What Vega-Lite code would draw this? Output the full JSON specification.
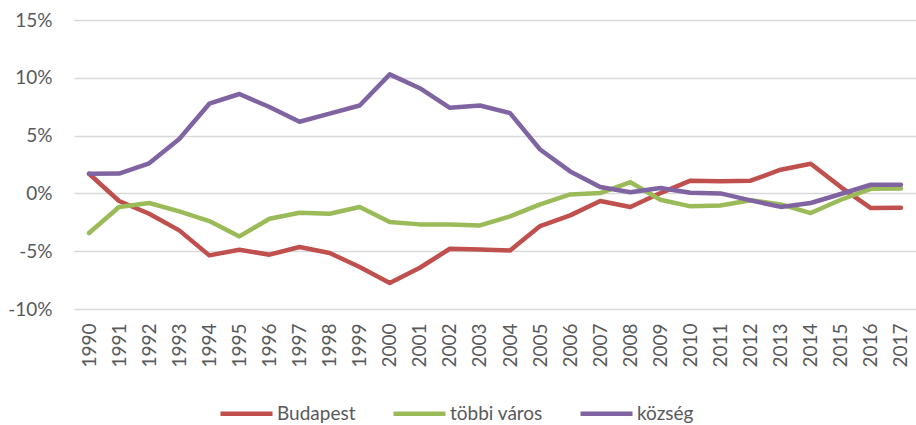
{
  "$schema": "https://vega.github.io/schema/vega-lite/v6.json",
  "autosize": "none",
  "width": 842,
  "height": 289,
  "padding": {"left": 74, "top": 20, "right": 0, "bottom": 116},
  "background": "white",
  "config": {
    "view": {"stroke": null},
    "font": "Lato",
    "axis": {"labelFont": "Lato", "labelColor": "#595959", "labelFontSize": 19},
    "legend": {"labelFont": "Lato", "labelColor": "#595959", "labelFontSize": 19}
  },
  "datasets": {
    "d": [
      {"year": "1990", "series": "Budapest", "value": 1.7},
      {"year": "1991", "series": "Budapest", "value": -0.66},
      {"year": "1992", "series": "Budapest", "value": -1.76},
      {"year": "1993", "series": "Budapest", "value": -3.2},
      {"year": "1994", "series": "Budapest", "value": -5.36},
      {"year": "1995", "series": "Budapest", "value": -4.87},
      {"year": "1996", "series": "Budapest", "value": -5.3},
      {"year": "1997", "series": "Budapest", "value": -4.64},
      {"year": "1998", "series": "Budapest", "value": -5.16},
      {"year": "1999", "series": "Budapest", "value": -6.37},
      {"year": "2000", "series": "Budapest", "value": -7.76},
      {"year": "2001", "series": "Budapest", "value": -6.43},
      {"year": "2002", "series": "Budapest", "value": -4.79},
      {"year": "2003", "series": "Budapest", "value": -4.85},
      {"year": "2004", "series": "Budapest", "value": -4.93},
      {"year": "2005", "series": "Budapest", "value": -2.83},
      {"year": "2006", "series": "Budapest", "value": -1.9},
      {"year": "2007", "series": "Budapest", "value": -0.66},
      {"year": "2008", "series": "Budapest", "value": -1.18},
      {"year": "2009", "series": "Budapest", "value": 0.03},
      {"year": "2010", "series": "Budapest", "value": 1.1},
      {"year": "2011", "series": "Budapest", "value": 1.05},
      {"year": "2012", "series": "Budapest", "value": 1.1},
      {"year": "2013", "series": "Budapest", "value": 2.05},
      {"year": "2014", "series": "Budapest", "value": 2.57},
      {"year": "2015", "series": "Budapest", "value": 0.55},
      {"year": "2016", "series": "Budapest", "value": -1.27},
      {"year": "2017", "series": "Budapest", "value": -1.25},
      {"year": "1990", "series": "többi város", "value": -3.43},
      {"year": "1991", "series": "többi város", "value": -1.18},
      {"year": "1992", "series": "többi város", "value": -0.83},
      {"year": "1993", "series": "többi város", "value": -1.56},
      {"year": "1994", "series": "többi város", "value": -2.39},
      {"year": "1995", "series": "többi város", "value": -3.72},
      {"year": "1996", "series": "többi város", "value": -2.19},
      {"year": "1997", "series": "többi város", "value": -1.67},
      {"year": "1998", "series": "többi város", "value": -1.76},
      {"year": "1999", "series": "többi város", "value": -1.18},
      {"year": "2000", "series": "többi város", "value": -2.48},
      {"year": "2001", "series": "többi város", "value": -2.68},
      {"year": "2002", "series": "többi város", "value": -2.68},
      {"year": "2003", "series": "többi város", "value": -2.77},
      {"year": "2004", "series": "többi város", "value": -1.99},
      {"year": "2005", "series": "többi város", "value": -0.95},
      {"year": "2006", "series": "többi város", "value": -0.09},
      {"year": "2007", "series": "többi város", "value": 0.03},
      {"year": "2008", "series": "többi város", "value": 0.98},
      {"year": "2009", "series": "többi város", "value": -0.55},
      {"year": "2010", "series": "többi város", "value": -1.12},
      {"year": "2011", "series": "többi város", "value": -1.04},
      {"year": "2012", "series": "többi város", "value": -0.6},
      {"year": "2013", "series": "többi város", "value": -0.95},
      {"year": "2014", "series": "többi város", "value": -1.7},
      {"year": "2015", "series": "többi város", "value": -0.55},
      {"year": "2016", "series": "többi város", "value": 0.4},
      {"year": "2017", "series": "többi város", "value": 0.42},
      {"year": "1990", "series": "község", "value": 1.7},
      {"year": "1991", "series": "község", "value": 1.72},
      {"year": "1992", "series": "község", "value": 2.6},
      {"year": "1993", "series": "község", "value": 4.7},
      {"year": "1994", "series": "község", "value": 7.76},
      {"year": "1995", "series": "község", "value": 8.6},
      {"year": "1996", "series": "község", "value": 7.47},
      {"year": "1997", "series": "község", "value": 6.2},
      {"year": "1998", "series": "község", "value": 6.9},
      {"year": "1999", "series": "község", "value": 7.6},
      {"year": "2000", "series": "község", "value": 10.3},
      {"year": "2001", "series": "község", "value": 9.1},
      {"year": "2002", "series": "község", "value": 7.4},
      {"year": "2003", "series": "község", "value": 7.6},
      {"year": "2004", "series": "község", "value": 6.95},
      {"year": "2005", "series": "község", "value": 3.8},
      {"year": "2006", "series": "község", "value": 1.9},
      {"year": "2007", "series": "község", "value": 0.55},
      {"year": "2008", "series": "község", "value": 0.1},
      {"year": "2009", "series": "község", "value": 0.46},
      {"year": "2010", "series": "község", "value": 0.05},
      {"year": "2011", "series": "község", "value": 0.0},
      {"year": "2012", "series": "község", "value": -0.6},
      {"year": "2013", "series": "község", "value": -1.17},
      {"year": "2014", "series": "község", "value": -0.83},
      {"year": "2015", "series": "község", "value": -0.05},
      {"year": "2016", "series": "község", "value": 0.75},
      {"year": "2017", "series": "község", "value": 0.74}
    ]
  },
  "data": {"name": "d"},
  "mark": {"type": "line", "strokeWidth": 4.5, "strokeCap": "round", "strokeJoin": "round"},
  "encoding": {
    "x": {
      "field": "year", "type": "ordinal",
      "scale": {"type": "point", "padding": 0.5},
      "axis": {"title": null, "labelAngle": -90, "labelPadding": 14, "ticks": false, "domain": false, "grid": false, "labelBaseline": "middle", "labelAlign": "right"}
    },
    "y": {
      "field": "value", "type": "quantitative",
      "scale": {"domain": [-10, 15], "nice": false, "zero": false},
      "axis": {"title": null, "values": [-10, -5, 0, 5, 10, 15], "labelExpr": "datum.value + '%'", "ticks": false, "domain": false, "labelPadding": 22, "gridColor": "#d9d9d9", "gridWidth": 1.5}
    },
    "color": {
      "field": "series", "type": "nominal",
      "scale": {"domain": ["Budapest", "többi város", "község"], "range": ["#C0504D", "#9BBB59", "#8064A2"]},
      "legend": {"title": null, "orient": "none", "legendX": 144, "legendY": 365, "direction": "horizontal", "symbolType": "stroke", "symbolStrokeWidth": 4.5, "symbolSize": 2704, "columnPadding": 28, "labelOffset": 2}
    }
  }
}
